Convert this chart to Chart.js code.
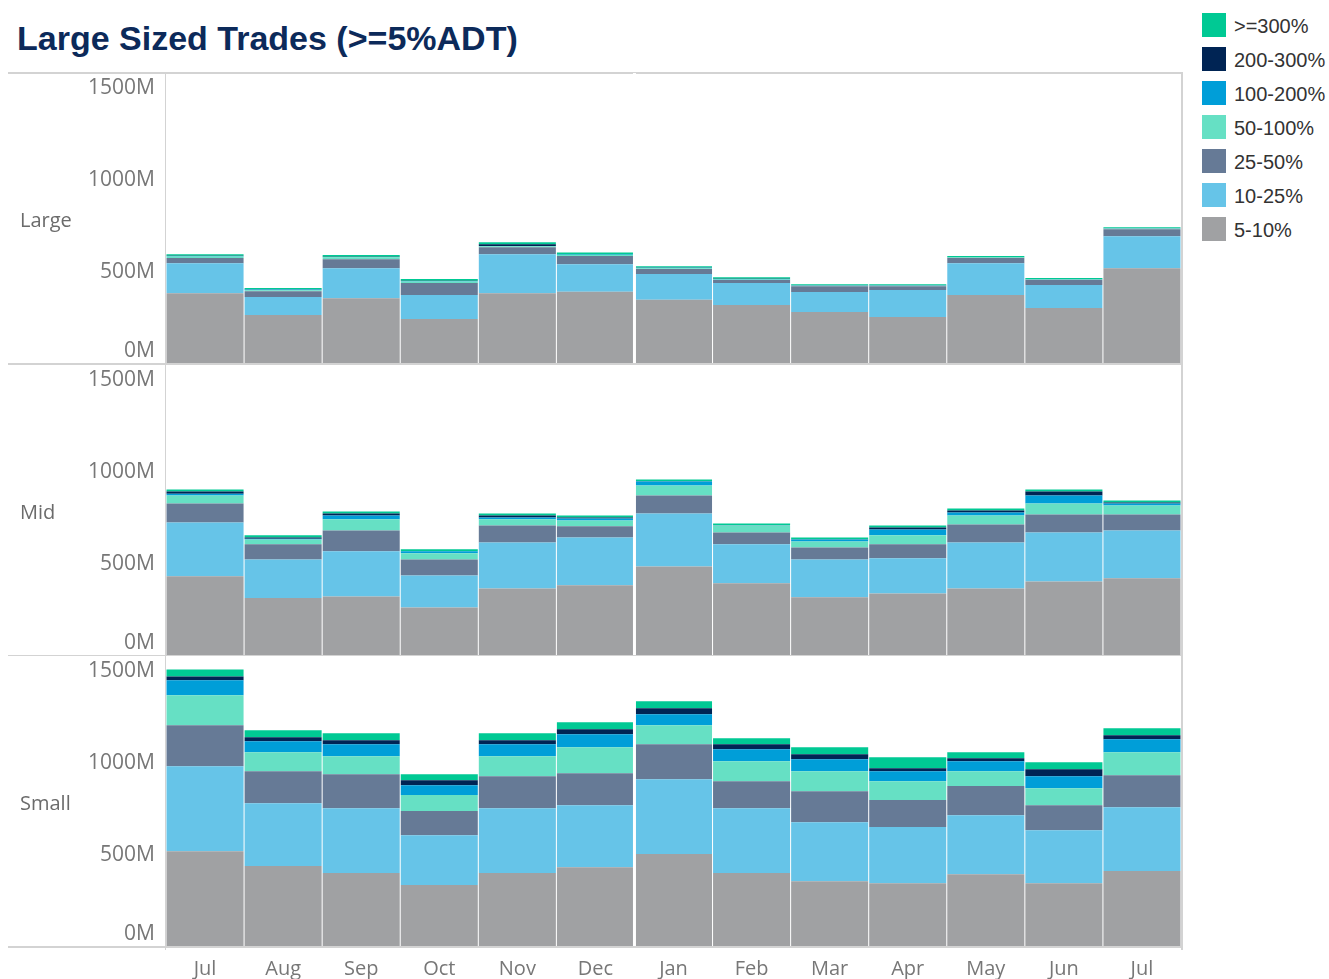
<!DOCTYPE html>
<html lang="en">
<head>
<meta charset="UTF-8">
<title>Large Sized Trades (>=5%ADT)</title>
<script src="https://cdn.jsdelivr.net/npm/chart.js"></script>
<style>
  body { margin: 0; background: #fff; width: 1329px; height: 979px; overflow: hidden; position: relative; }
  #title { position: absolute; left: 17px; top: 21px; font: bold 34px/34px "Liberation Sans", Arial, sans-serif; color: #0c2a5a; white-space: nowrap; }
  .hline { position: absolute; left: 8px; width: 1174px; height: 1.5px; background: #d3d3d3; }
  .vline { position: absolute; top: 72px; width: 1.5px; height: 878px; background: #d3d3d3; }
  canvas { position: absolute; left: 0; }
  #legend { position: absolute; left: 1202px; top: 13px; font: 20px "Liberation Sans", Arial, sans-serif; color: #333; }
  .item { height: 34px; display: flex; align-items: flex-start; }
  .sw { width: 24px; height: 24px; margin-right: 8px; }
  .lab { line-height: 26px; white-space: nowrap; }
</style>
</head>
<body>
<div id="title">Large Sized Trades (&gt;=5%ADT)</div>
<div class="hline" style="top:72px"></div>
<div class="hline" style="top:363px"></div>
<div class="hline" style="top:654.5px"></div>
<div class="hline" style="top:946px"></div>
<div class="vline" style="left:164.5px"></div>
<div class="vline" style="left:1181px"></div>
<canvas id="large" width="1182" height="290" style="top:73px"></canvas>
<canvas id="mid" width="1182" height="290" style="top:365px"></canvas>
<canvas id="small" width="1182" height="323" style="top:656px"></canvas>
<div id="legend"></div>
<script>
// months on the x axis
const months = ['Jul', 'Aug', 'Sep', 'Oct', 'Nov', 'Dec', 'Jan', 'Feb', 'Mar', 'Apr', 'May', 'Jun', 'Jul'];
// size bands, bottom of the stack first
const bands = ['5-10%', '10-25%', '25-50%', '50-100%', '100-200%', '200-300%', '>=300%'];
const bandColors = ['#a0a1a3', '#66c4e8', '#667a96', '#66e0c4', '#009ed8', '#002454', '#00c994'];
const yTicks = [0, 500, 1000, 1500];

// values in M, one row per band (same order as bands)
const largeRows = [
  [379, 261, 353, 239, 380, 388, 344, 315, 277, 250, 370, 299, 516],
  [164, 98, 163, 131, 212, 150, 140, 120, 109, 147, 173, 125, 174],
  [28, 32, 49, 65, 38, 44, 27, 16, 32, 21, 28, 27, 38],
  [9, 5, 10, 8, 5, 6, 5, 4, 3, 3, 4, 4, 4],
  [2, 4, 2, 3, 2, 2, 2, 2, 1, 1, 1, 1, 1],
  [1, 1, 1, 1, 9, 1, 1, 1, 1, 1, 1, 1, 1],
  [9, 7, 9, 10, 11, 10, 8, 9, 6, 6, 5, 5, 5]
];
const midRows = [
  [429, 310, 319, 259, 362, 379, 482, 390, 314, 335, 362, 400, 417],
  [292, 210, 245, 174, 250, 261, 288, 212, 206, 191, 250, 267, 261],
  [104, 82, 114, 87, 93, 60, 98, 65, 65, 76, 98, 98, 87],
  [43, 27, 60, 33, 33, 32, 54, 38, 33, 49, 49, 60, 49],
  [9, 3, 21, 11, 10, 11, 22, 1, 11, 32, 17, 43, 11],
  [13, 8, 11, 1, 11, 5, 1, 1, 1, 11, 10, 22, 5],
  [10, 11, 11, 10, 11, 11, 10, 9, 10, 11, 11, 10, 11]
];
const smallRows = [
  [516, 435, 397, 332, 397, 429, 500, 397, 353, 342, 391, 342, 408],
  [462, 342, 353, 271, 353, 337, 408, 353, 321, 305, 321, 288, 347],
  [223, 174, 185, 131, 174, 174, 190, 147, 168, 147, 158, 136, 174],
  [163, 103, 98, 87, 109, 142, 103, 108, 109, 103, 81, 93, 125],
  [82, 60, 65, 54, 65, 70, 60, 66, 65, 54, 54, 65, 71],
  [21, 22, 22, 27, 22, 27, 33, 27, 28, 16, 17, 38, 22],
  [38, 38, 38, 33, 38, 38, 38, 32, 38, 60, 32, 38, 38]
];

// legend, top band first
const legend = document.getElementById('legend');
for (let i = bands.length - 1; i >= 0; i--) {
  const it = document.createElement('div');
  it.className = 'item';
  it.innerHTML = '<div class="sw" style="background:' + bandColors[i] + '"></div><div class="lab"></div>';
  it.querySelector('.lab').textContent = bands[i];
  legend.appendChild(it);
}

// y labels, row header and the Dec/Jan year break
const panelDecor = {
  id: 'panelDecor',
  afterDatasetsDraw(chart, args, opts) {
    const { ctx, chartArea, scales } = chart;
    ctx.save();
    const xb = (scales.x.getPixelForValue(5) + scales.x.getPixelForValue(6)) / 2;
    ctx.fillStyle = '#fff';
    ctx.fillRect(xb - 1.5, chartArea.top, 3, chartArea.bottom - chartArea.top);

    ctx.font = '21px "Open Sans"';
    ctx.fillStyle = '#777';
    ctx.textAlign = 'right';
    ctx.textBaseline = 'middle';
    yTicks.forEach(v => {
      let y = scales.y.getPixelForValue(v) + 1;
      if (v === 0) y -= 13;
      ctx.fillText(v + 'M', 155, y);
    });
    ctx.font = '20px "Open Sans"';
    ctx.textAlign = 'left';
    ctx.fillStyle = '#6b6b6b';
    ctx.fillText(opts.name, 20, (chartArea.top + chartArea.bottom) / 2 + 3);
    ctx.restore();
  }
};

function makePanel(id, name, rows, showX) {
  const xScale = {
    stacked: true,
    display: showX,
    grid: { display: false, drawTicks: false },
    border: { display: false },
    ticks: { color: '#777', font: { family: 'Open Sans', size: 20 }, padding: 11, maxRotation: 0, autoSkip: false }
  };
  if (showX) xScale.afterFit = s => { s.height = 33; };

  return new Chart(document.getElementById(id), {
    type: 'bar',
    data: {
      labels: months,
      datasets: bands.map((b, i) => ({
        label: b,
        data: rows[i],
        backgroundColor: bandColors[i],
        borderWidth: 0,
        barPercentage: 1,
        categoryPercentage: 0.987
      }))
    },
    options: {
      responsive: false,
      animation: false,
      layout: { padding: { left: 0, right: 1, top: 0, bottom: 0 } },
      plugins: {
        legend: { display: false },
        tooltip: { enabled: false },
        panelDecor: { name: name }
      },
      scales: {
        x: xScale,
        y: {
          stacked: true,
          min: 0,
          max: 1578,
          grid: { display: false },
          border: { display: false },
          ticks: { display: false, stepSize: 500 },
          afterFit: s => { s.width = 166; }
        }
      }
    },
    plugins: [panelDecor]
  });
}

makePanel('large', 'Large', largeRows, false);
makePanel('mid', 'Mid', midRows, false);
makePanel('small', 'Small', smallRows, true);
</script>
</body>
</html>
